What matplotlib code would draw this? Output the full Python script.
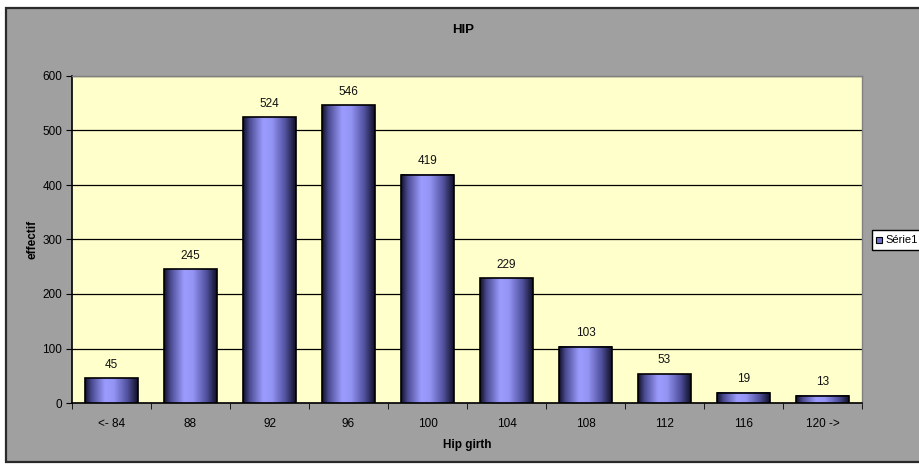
import matplotlib
matplotlib.use("Agg")
import matplotlib.pyplot as plt
import numpy as np
from matplotlib.patches import Rectangle
from matplotlib.colors import LinearSegmentedColormap

categories = ["<- 84", "88", "92", "96", "100", "104", "108", "112", "116", "120 ->"]
values = [45, 245, 524, 546, 419, 229, 103, 53, 19, 13]
yticks = [0, 100, 200, 300, 400, 500, 600]

plt.rcParams['font.family'] = ['Liberation Sans', 'DejaVu Sans']

fig = plt.figure(figsize=(9.2, 4.65), dpi=100)
fig.patch.set_facecolor('white')

# chart area (gray) extending past the right edge
fig.patches.append(Rectangle((6/920, 3/465), 1.2, 454/465, transform=fig.transFigure,
                             facecolor='#a0a0a0', edgecolor='#2a2a2a', lw=1.6, zorder=-10))

ax = fig.add_axes([72/920, 1-403/465, 790/920, 327/465])
ax.set_zorder(1)
ax.set_facecolor('#ffffcc')

cmap = LinearSegmentedColormap.from_list('cyl', [
    (0.0, '#101028'), (0.12, '#4a4a90'), (0.38, '#9c9cff'), (0.55, '#9494f4'),
    (0.8, '#5252a0'), (1.0, '#101028')])
grad = np.linspace(0, 1, 128).reshape(1, -1)

x = np.arange(len(categories))
w = 0.67
for xi, v in zip(x, values):
    ax.imshow(grad, cmap=cmap, extent=(xi - w/2, xi + w/2, 0, v), aspect='auto',
              interpolation='bicubic', zorder=3)
ax.bar(x, values, width=w, fill=False, edgecolor='black', lw=1.2, zorder=4)
for xi, v in zip(x, values):
    ax.text(xi, v + 14, str(v), ha='center', va='bottom', fontsize=8.5, color='#111111', zorder=5)

ax.set_xlim(-0.5, len(categories) - 0.5)
ax.set_ylim(0, 600)
ax.set_yticks(yticks)
ax.yaxis.grid(True, color='black', lw=0.9)
ax.set_axisbelow(True)
ax.set_xticks(x)
ax.set_xticklabels(categories)
ax.set_xticks(np.arange(-0.5, len(categories), 1), minor=True)
ax.tick_params(axis='x', which='major', length=0, pad=11, labelsize=8.5)
ax.tick_params(axis='x', which='minor', length=4, direction='out', color='black')
ax.tick_params(axis='y', length=4, direction='out', labelsize=8.5, pad=3)
for s in ['top', 'right']:
    ax.spines[s].set_color('#808080')
    ax.spines[s].set_linewidth(1.0)
for s in ['left', 'bottom']:
    ax.spines[s].set_color('black')
    ax.spines[s].set_linewidth(1.2)

ax.set_xlabel('Hip girth', fontsize=8.5, fontweight='bold', labelpad=6)
ax.set_ylabel('effectif', fontsize=8.5, fontweight='bold', labelpad=3)

fig.text(463/920, 1-30/465, 'HIP', ha='center', va='center', fontsize=9.5, fontweight='bold')

# legend (at right edge)
fig.patches.append(Rectangle((872/920, 1-250/465), 0.1, 20/465, transform=fig.transFigure,
                             facecolor='white', edgecolor='black', lw=1.0, zorder=5))
fig.patches.append(Rectangle((876/920, 1-243/465), 6/920, 6/465, transform=fig.transFigure,
                             facecolor='#7070d0', edgecolor='black', lw=0.8, zorder=6))
fig.text(885/920, 1-240/465, 'Série1', ha='left', va='center', fontsize=8, zorder=7)

fig.savefig('out.png', dpi=100, facecolor='white')
